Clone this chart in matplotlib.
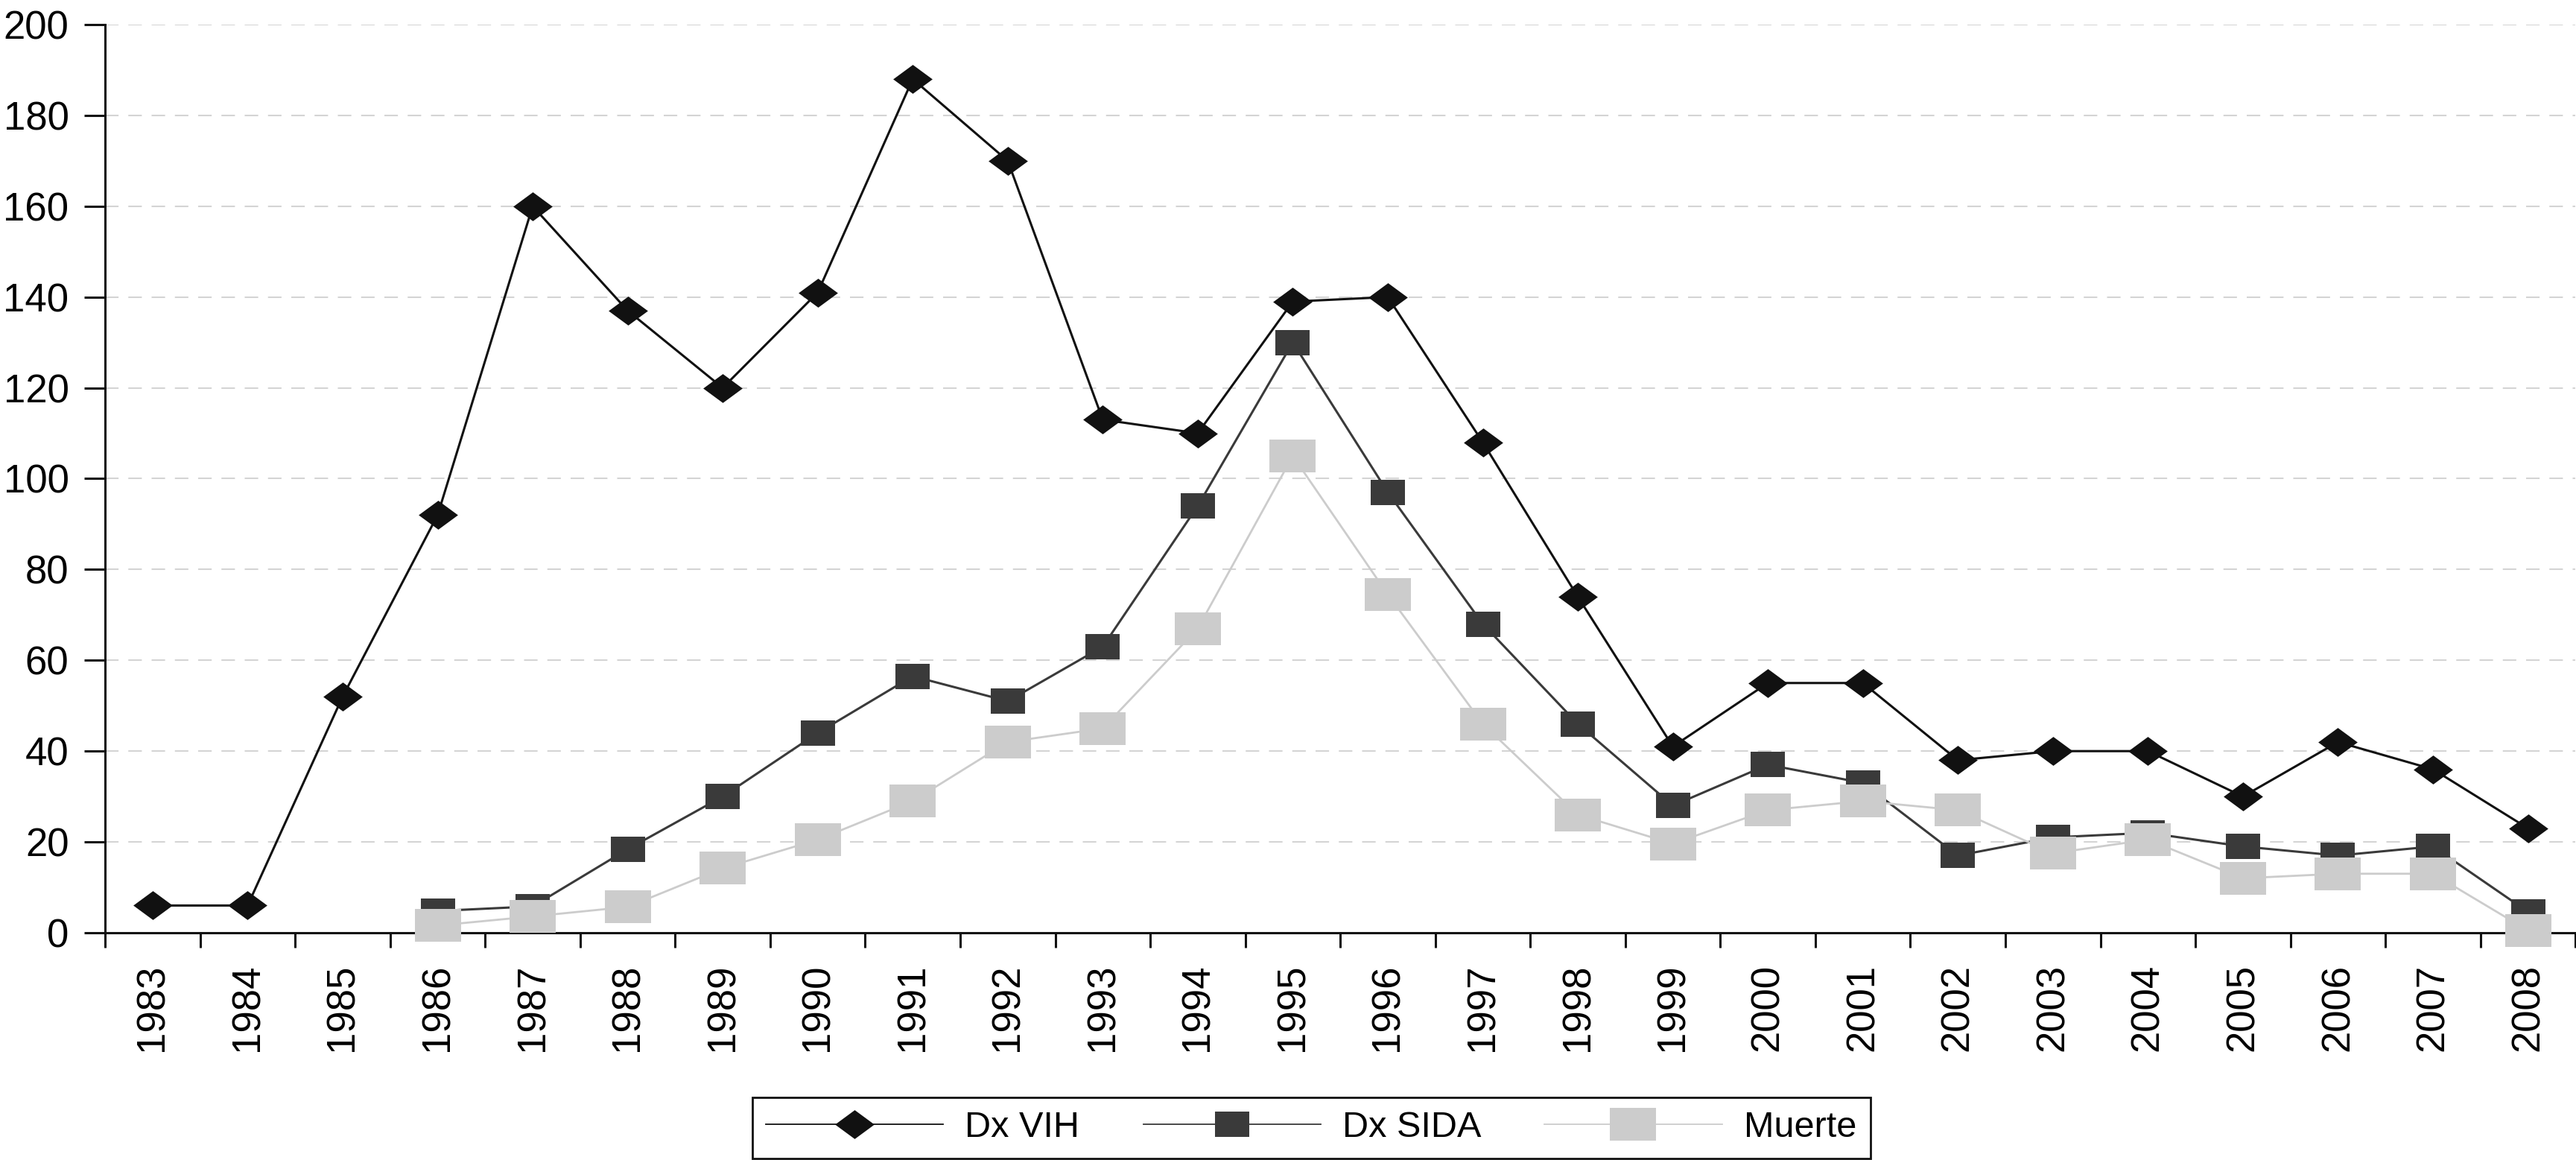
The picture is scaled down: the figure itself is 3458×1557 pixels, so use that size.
import numpy as np
import matplotlib
matplotlib.use('Agg')
import matplotlib.pyplot as plt
from matplotlib.path import Path
from matplotlib.lines import Line2D

nan = np.nan
years = [str(y) for y in range(1983, 2009)]
dx_vih = [6, 6, 52, 92, 160, 137, 120, 141, 188, 170, 113, 110, 139, 140,
          108, 74, 41, 55, 55, 38, 40, 40, 30, 42, 36, 23]
dx_sida = [nan, nan, nan, 4.8, 5.8, 18.4, 30, 44, 56.5, 51, 63, 94, 130, 97,
           68, 46, 28, 37, 33, 17, 21, 22, 19, 17, 19, 4.6]
muerte = [nan, nan, nan, 1.6, 3.6, 5.7, 14.2, 20.5, 29, 42, 45, 67, 105, 74.5,
          46, 26, 19.6, 27, 29, 27, 17.5, 20.5, 12, 13, 13, 0.5]
y_ticks = list(range(0, 201, 20))

plt.rcParams['font.family'] = ['Liberation Sans', 'DejaVu Sans']

fig = plt.figure(figsize=(34.58, 15.57), dpi=100)
ax = fig.add_axes([0.0408, 0.1959, 0.959, 0.7829])

diamond = Path([(-0.68, 0), (0, 0.5), (0.68, 0), (0, -0.5), (-0.68, 0)], closed=True)
rect_d = Path([(-0.5, -0.37), (0.5, -0.37), (0.5, 0.37), (-0.5, 0.37), (-0.5, -0.37)], closed=True)
rect_l = Path([(-0.5, -0.355), (0.5, -0.355), (0.5, 0.355), (-0.5, 0.355), (-0.5, -0.355)], closed=True)

x = np.arange(len(years))
c_vih, c_sida, c_muerte = '#111111', '#3a3a3a', '#cccccc'
ax.plot(x, dx_vih, color=c_vih, lw=2.2, marker=diamond, ms=38, mew=0,
        mfc=c_vih, zorder=3, clip_on=False)
ax.plot(x, dx_sida, color=c_sida, lw=2.2, marker=rect_d, ms=33, mew=0,
        mfc=c_sida, zorder=3, clip_on=False)
ax.plot(x, muerte, color=c_muerte, lw=2.0, marker=rect_l, ms=44.6, mew=0,
        mfc=c_muerte, zorder=3, clip_on=False)

ax.set_xlim(-0.5, len(years) - 0.5)
ax.set_ylim(0, 200)
ax.set_yticks(y_ticks)
ax.set_yticklabels([str(v) for v in y_ticks], fontsize=38)
ax.set_xticks(x)
ax.set_xticklabels(years, rotation=90, fontsize=38)
ax.set_xticks(np.arange(-0.5, len(years), 1.0), minor=True)
ax.tick_params(axis='x', which='major', length=0, pad=30)
ax.tick_params(axis='x', which='minor', length=14.4, width=2.2, color='#111111')
ax.tick_params(axis='y', which='major', length=20, width=2.2, pad=15, color='#111111')

for s in ['top', 'right']:
    ax.spines[s].set_visible(False)
for s in ['left', 'bottom']:
    ax.spines[s].set_linewidth(2.2)
    ax.spines[s].set_color('#111111')

ax.set_axisbelow(True)
ax.yaxis.grid(True, color='#d4d4d4', lw=1.5, linestyle=(0, (8.7, 6.3)))
ax.xaxis.grid(False)

handles = [
    Line2D([], [], color=c_vih, lw=1.3, marker=diamond, ms=38, mew=0, mfc=c_vih),
    Line2D([], [], color=c_sida, lw=1.3, marker=rect_d, ms=33, mew=0, mfc=c_sida),
    Line2D([], [], color=c_muerte, lw=1.3, marker=rect_l, ms=44.6, mew=0, mfc=c_muerte),
]
leg = fig.legend(handles, ['Dx VIH', 'Dx SIDA', 'Muerte'], loc='lower center',
                 bbox_to_anchor=(0.509, 0.0015), ncol=3, fontsize=35,
                 frameon=True, fancybox=False, edgecolor='#111111',
                 framealpha=1, borderpad=0.38, handlelength=4.9,
                 handletextpad=0.6, columnspacing=1.75, numpoints=1,
                 borderaxespad=0)
leg.get_frame().set_linewidth(2.0)

fig.savefig('out.png', dpi=100)
